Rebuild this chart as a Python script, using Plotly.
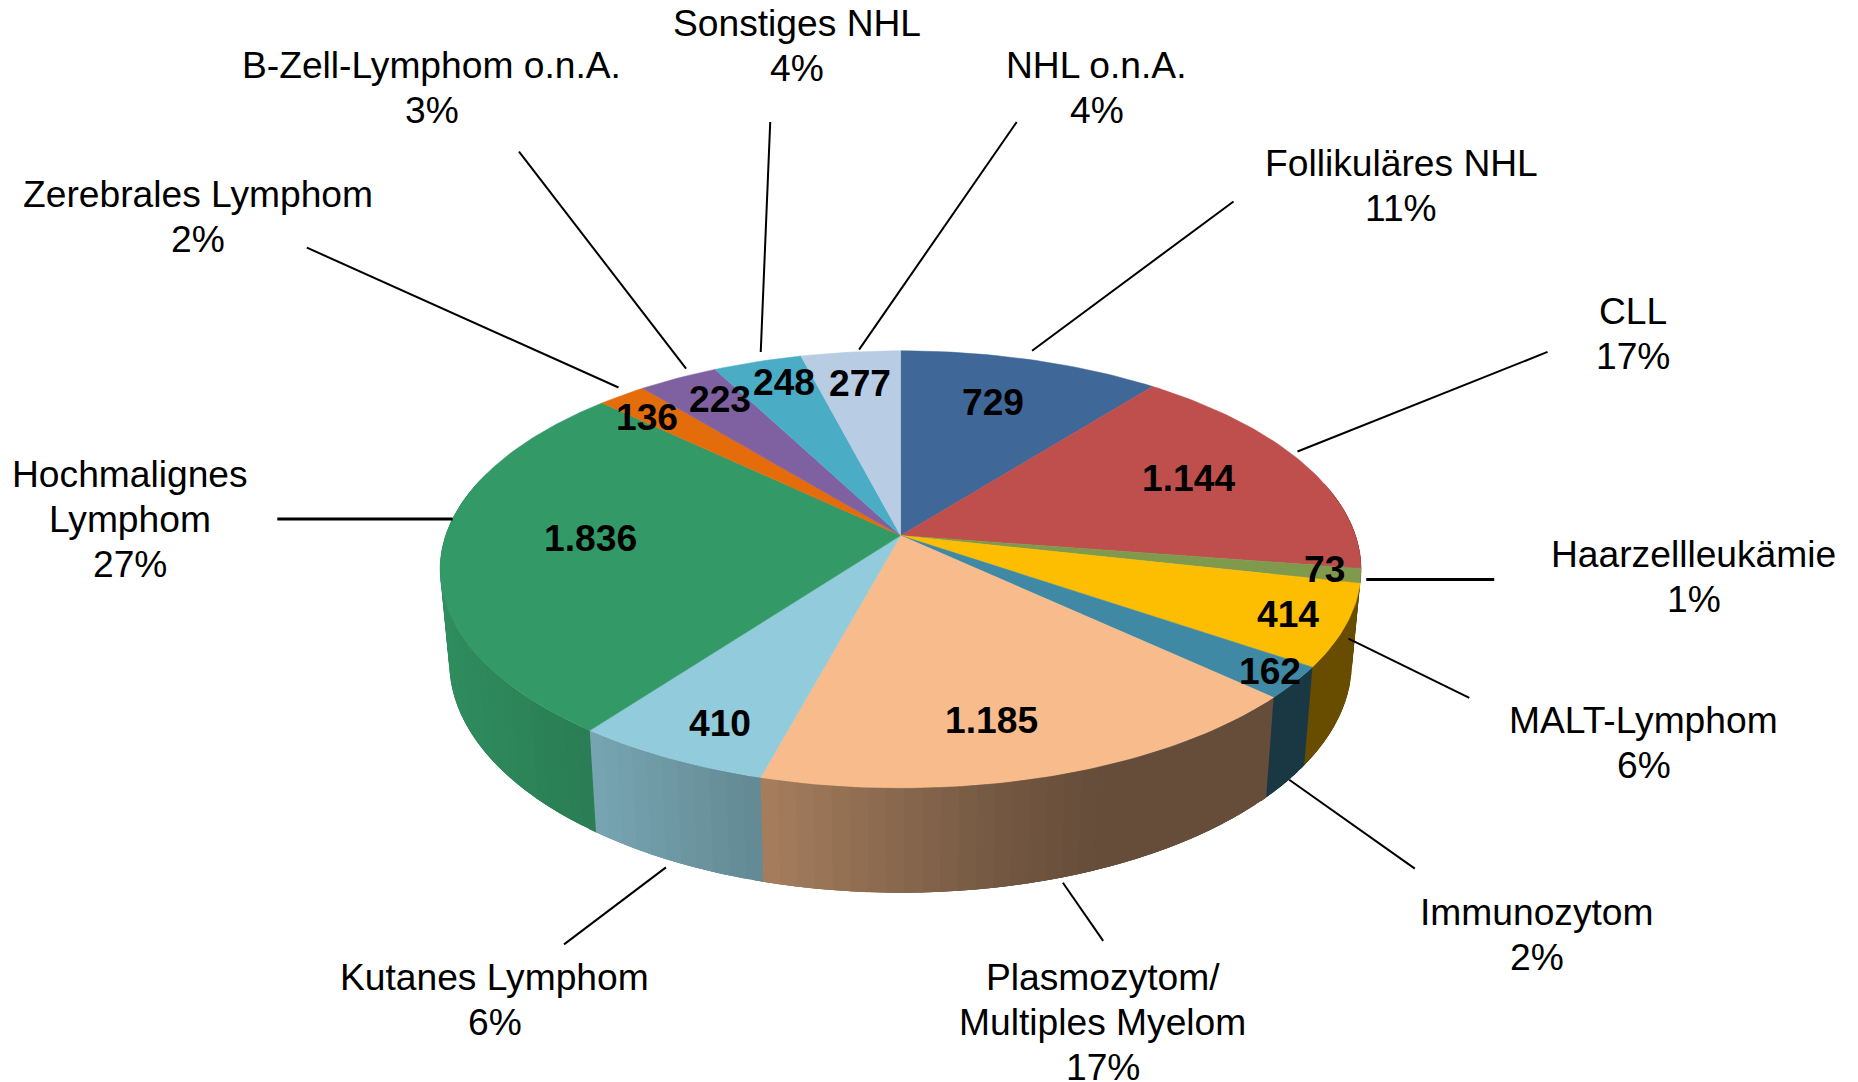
import numpy as np
import plotly.graph_objects as go

# ---- data ----
categories = ["Follikuläres NHL", "CLL", "Haarzellleukämie", "MALT-Lymphom", "Immunozytom",
              "Plasmozytom/<br>Multiples Myelom", "Kutanes Lymphom", "Hochmalignes<br>Lymphom",
              "Zerebrales Lymphom", "B-Zell-Lymphom o.n.A.", "Sonstiges NHL", "NHL o.n.A."]
values = [729, 1144, 73, 414, 162, 1185, 410, 1836, 136, 223, 248, 277]
colors = [(63, 103, 151), (190, 79, 76), (127, 154, 76), (253, 189, 0), (63, 137, 164), (247, 187, 140),
          (146, 203, 219), (51, 153, 102), (228, 108, 10), (127, 96, 160), (75, 172, 198), (184, 204, 228)]

# ---- layout constants (pixels of the page) ----
W, H = 1858, 1082
S = 1858 / 1568
FONT = "Liberation Sans, Arial, sans-serif"
FS = 37.2
LINE_H = 45
APEX_X, APEX_Y = 900.6, 535.6
RX, RY, K = 455.0, 213.3, 0.1544
WALL_SX, WALL_SY, WALL_DY = 0.98, 1.055, 91.0
# shading of the side wall as a function of page x
SHADE_X = [440, 596, 765, 900, 1000, 1100, 1360]
SHADE_F = [.92, .81, .67, .55, .47, .41, .41]

# centre of the first text line for the outer labels, shrunk-image pixels
label_pos = [(1182.5, 137.5), (1378, 262.5), (1429.5, 467.5), (1387, 607.5), (1297.5, 769.5), (930.5, 824.5),
             (417.5, 824.5), (110, 400), (167, 163.5), (364.5, 54.5), (672.5, 19.5), (925.5, 54.5)]
value_pos = [(838, 339), (1003, 403), (1118, 480), (1087, 518), (1072, 566), (837, 608),
             (608, 610), (498, 454), (546, 352), (608, 337), (662, 322), (726, 323)]
leaders = [(1041, 170, 871, 296), (1306, 297, 1095, 381), (1261, 489, 1153, 489), (1240, 589, 1138, 539),
           (1194, 733, 1088, 658), (931, 794, 897, 745), (476, 797, 562, 732), (234, 438, 382, 438),
           (259, 209, 522, 327), (438, 128, 579, 311), (650, 103, 642, 297), (858, 103, 725, 295)]
leader_widths = [2, 2, 3, 2, 2, 2, 2, 3, 2, 2, 2, 2]


def top_xy(theta):
    u, v = np.sin(theta), -np.cos(theta)
    w = 1 - K * v
    return APEX_X + RX * u / w, APEX_Y + RY * v / w


def bottom_xy(theta):
    x, y = top_xy(theta)
    return APEX_X + WALL_SX * (x - APEX_X), APEX_Y + WALL_DY + WALL_SY * (y - APEX_Y)


total = sum(values)
edges = 2 * np.pi * np.concatenate([[0], np.cumsum(values)]) / total

fig = go.Figure()

# side walls: each band runs on past the next one, which paints over it, so no seams show
for i, col in enumerate(colors):
    a0, a1 = edges[i], edges[i + 1]
    n = max(1, int(np.ceil((a1 - a0) / np.radians(2))))
    ts = np.linspace(a0, a1, n + 1)
    for t0, t1 in zip(ts[:-1], ts[1:]):
        if np.cos((t0 + t1) / 2) > 0.25:
            continue
        arc = np.linspace(t0, min(t1 + np.radians(4), a1 + np.radians(1)), 6)
        xt, yt = top_xy(arc)
        xb, yb = bottom_xy(arc[::-1])
        xm = top_xy((t0 + t1) / 2)[0]
        f = np.interp(xm, SHADE_X, SHADE_F)
        c = "rgb(%d,%d,%d)" % tuple(int(round(ch * f)) for ch in col)
        fig.add_trace(go.Scatter(x=np.r_[xt, xb, xt[0]], y=np.r_[yt, yb, yt[0]], mode="lines",
                                 fill="toself", fillcolor=c, line=dict(color=c, width=0),
                                 hoverinfo="skip", showlegend=False))

# top faces
for i, col in enumerate(colors):
    arc = np.linspace(edges[i], edges[i + 1], max(4, int(values[i] / total * 360)))
    xa, ya = top_xy(arc)
    c = "rgb(%d,%d,%d)" % col
    fig.add_trace(go.Scatter(x=np.r_[APEX_X, xa, APEX_X], y=np.r_[APEX_Y, ya, APEX_Y], mode="lines",
                             fill="toself", fillcolor=c, line=dict(color=c, width=0.5),
                             name=categories[i].replace("<br>", " "), hoverinfo="name", showlegend=False))

# leader lines
for (x0, y0, x1, y1), lw in zip(leaders, leader_widths):
    fig.add_trace(go.Scatter(x=[x0 * S, x1 * S], y=[y0 * S, y1 * S], mode="lines",
                             line=dict(color="black", width=lw), hoverinfo="skip", showlegend=False))

ann = []
# outer labels, line by line
for name, v, (lx, ly) in zip(categories, values, label_pos):
    lines = name.split("<br>") + ["%d%%" % round(100 * v / total)]
    for j, t in enumerate(lines):
        ann.append(dict(x=lx * S, y=ly * S + j * LINE_H, text=t, showarrow=False, xanchor="center",
                        yanchor="middle", font=dict(family=FONT, size=FS, color="black")))
# value labels with German thousands separator
for v, (lx, ly) in zip(values, value_pos):
    ann.append(dict(x=lx * S, y=ly * S, text=f"{v:,}".replace(",", "."), showarrow=False, xanchor="center",
                    yanchor="middle", font=dict(family=FONT, size=FS, color="black", weight="bold")))

fig.update_layout(width=W, height=H, margin=dict(l=0, r=0, t=0, b=0), paper_bgcolor="white",
                  plot_bgcolor="white", annotations=ann, showlegend=False,
                  xaxis=dict(range=[0, W], visible=False, fixedrange=True),
                  yaxis=dict(range=[H, 0], visible=False, fixedrange=True))

fig.write_html("out.html", config={"displayModeBar": False},
               post_script="document.body.style.margin='0';document.documentElement.style.overflow='hidden';")
